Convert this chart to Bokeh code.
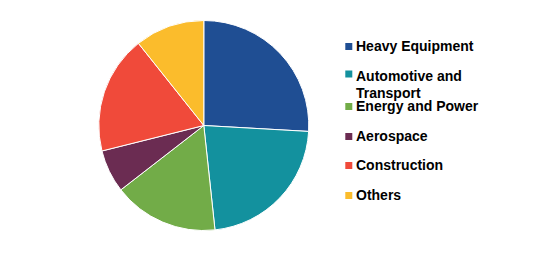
import math
from bokeh.plotting import figure
from bokeh.models import Range1d, ColumnDataSource
from bokeh.core.properties import value
from bokeh.embed import file_html
from bokeh.resources import INLINE

categories = ["Heavy Equipment", "Automotive and\nTransport", "Energy and Power",
              "Aerospace", "Construction", "Others"]
shares = [25.9, 22.4, 16.2, 6.6, 18.2, 10.7]
colors = ["#1F4E93", "#13919E", "#72AC48", "#6B2C52", "#F04A3A", "#FBBC2C"]

W, H = 535, 253
p = figure(width=W, height=H, output_backend="svg", toolbar_location=None,
           x_range=Range1d(0, W), y_range=Range1d(H, 0),
           min_border=0, outline_line_color=None)
p.axis.visible = False
p.grid.visible = False
p.background_fill_color = "white"
p.border_fill_color = "white"

total = sum(shares)
starts, ends = [], []
cum = 0.0
for s in shares:
    starts.append(math.pi / 2 - cum / total * 2 * math.pi)
    cum += s
    ends.append(math.pi / 2 - cum / total * 2 * math.pi)

src = ColumnDataSource(dict(start=starts, end=ends, color=colors, cat=categories))
p.wedge(x=203.3, y=125, radius=105, start_angle="start", end_angle="end",
        direction="clock", fill_color="color", line_color="white", line_width=1,
        source=src)

# legend (layout positions)
sq_y = [46, 73.5, 106, 136, 165, 195]
txt_y = [46, 76.5, 106, 136, 165, 195]
p.scatter(x=[348.3] * 6, y=sq_y, marker="square", size=7, fill_color=colors, line_color=None)
p.text(x=[355.5] * 6, y=[t - 9 for t in txt_y], text=categories,
       text_font=value("Liberation Sans"), text_font_style="bold", text_font_size="14px",
       text_baseline="top", text_align="left", text_color="black", text_line_height=1.05)

open("out.html", "w").write(file_html(p, INLINE))
